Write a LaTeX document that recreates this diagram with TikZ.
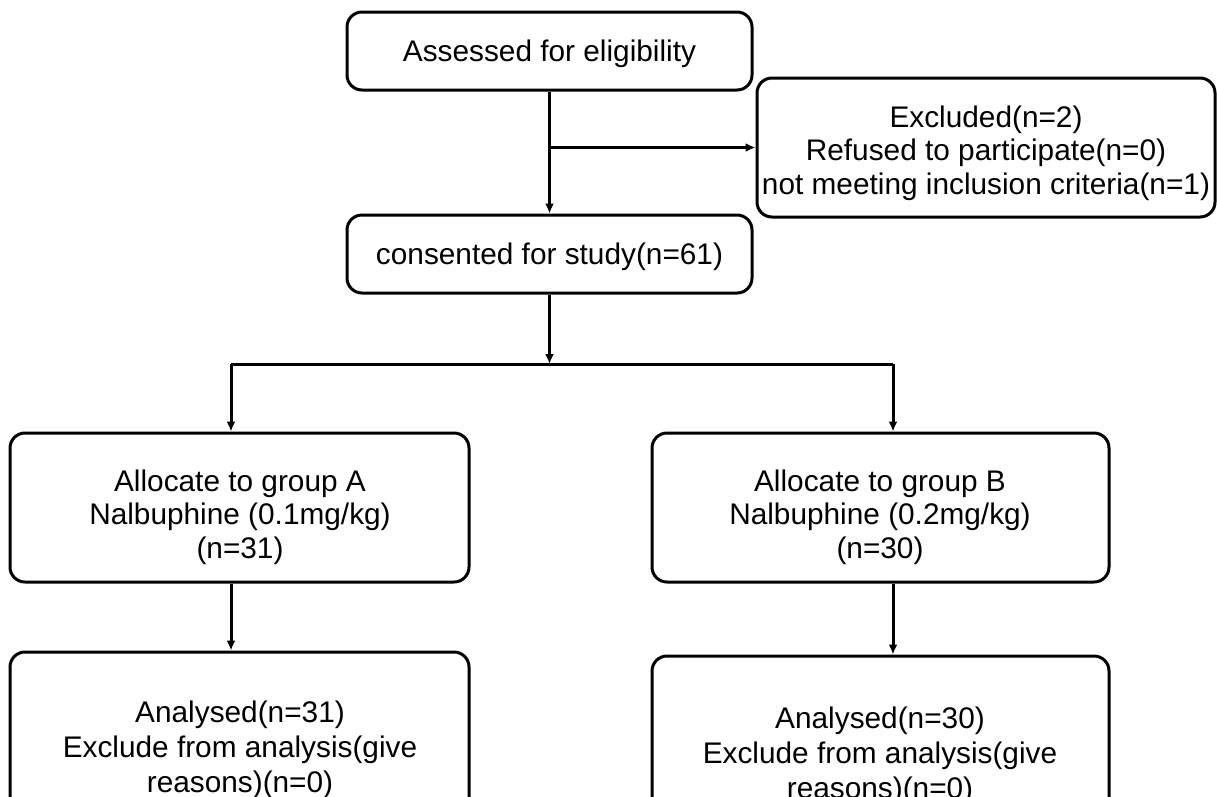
\documentclass[tikz,border=0pt]{standalone}
\usepackage{fontspec}
\setmainfont{Liberation Sans}
\usetikzlibrary{arrows.meta}
\begin{document}
\begin{tikzpicture}[x=1pt,y=-1pt,
  box/.style={draw, line width=3pt, rounded corners=15pt, inner sep=0pt},
  txt/.style={align=center, inner sep=0pt, font=\fontsize{29.8}{33.5}\selectfont},
  txtb/.style={align=center, inner sep=0pt, font=\fontsize{29.8}{35}\selectfont},
  conn/.style={line width=3pt},
  arr/.style={conn, -{Latex[length=10pt,width=9pt]}}]
\useasboundingbox (0,0) rectangle (1217,796);
\clip (0,0) rectangle (1217,796);

% boxes
\node[box, minimum width=405pt, minimum height=78pt] (assess) at (549.5,51) {};
\node[txt] (assesst) at (549.5,54) {Assessed for eligibility};
\node[box, minimum width=458pt, minimum height=139pt] (excl) at (986,147.5) {};
\node[txt] (exclt) at (986,153)
  {Excluded(n=2)\\Refused to participate(n=0)\\not meeting inclusion criteria(n=1)};
\node[box, minimum width=405pt, minimum height=78pt] (consent) at (549.5,254) {};
\node[txt] (consentt) at (549.5,257) {consented for study(n=61)};

\node[box, minimum width=459pt, minimum height=149pt] (ga) at (239.5,507.5) {};
\node[txt] (gat) at (240,517) {Allocate to group A\\Nalbuphine (0.1mg/kg)\\(n=31)};
\node[box, minimum width=457pt, minimum height=149pt] (gb) at (880.5,507.5) {};
\node[txt] (gbt) at (880,517) {Allocate to group B\\Nalbuphine (0.2mg/kg)\\(n=30)};

\node[box, minimum width=459pt, minimum height=194pt] (aa) at (239.5,749) {};
\node[txtb] (aat) at (240,750) {Analysed(n=31)\\Exclude from analysis(give\\reasons)(n=0)};
\node[box, minimum width=457pt, minimum height=198pt] (ab) at (880.5,755) {};
\node[txtb] (abt) at (880,756) {Analysed(n=30)\\Exclude from analysis(give\\reasons)(n=0)};

% connectors
\coordinate (branch) at (assess.south |- excl.west);
\draw[arr] (assess.south) -- (consent.north);
\draw[arr] (branch) -- (excl.west);

\coordinate (split) at (549.5,364);
\coordinate (sa) at (231,364);
\coordinate (sb) at (893,364);
\draw[arr] (consent.south) -- (split);
\draw[conn] (sa) -- (sb);
\draw[arr] (sa) -- (sa |- ga.north);
\draw[arr] (sb) -- (sb |- gb.north);
\draw[arr] (sa |- ga.south) -- (sa |- aa.north);
\draw[arr] (sb |- gb.south) -- (sb |- ab.north);
\end{tikzpicture}
\end{document}
